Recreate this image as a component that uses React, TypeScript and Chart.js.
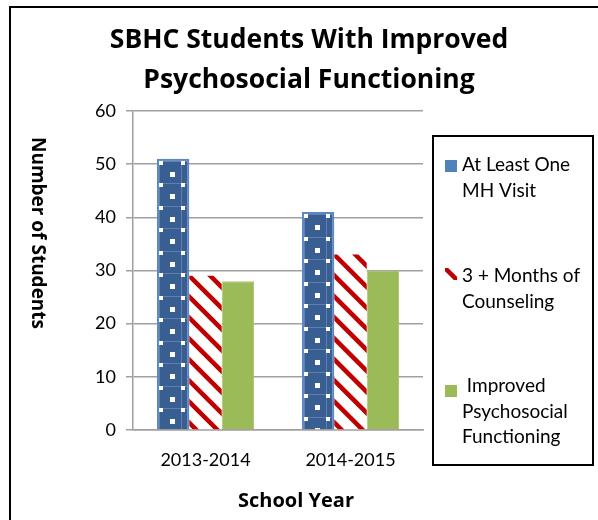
import React, { useEffect, useRef } from 'react';
import { Chart, registerables } from 'chart.js';

Chart.register(...registerables);

const categories = ['2013-2014', '2014-2015'];
const seriesNames = ['At Least One MH Visit', '3 + Months of Counseling', 'Improved Psychosocial Functioning'];
const legendLines = [['At Least One', 'MH Visit'], ['3 + Months of', 'Counseling'], [' Improved', 'Psychosocial', 'Functioning']];
const mhVisit = [51, 41];
const counseling = [29, 33];
const improved = [28, 30];
const yMin = 0;
const yMax = 60;
const yStep = 10;
const titleLines = ['SBHC Students With Improved', 'Psychosocial Functioning'];
const yTitle = 'Number of Students';
const xTitle = 'School Year';

const FONT = 'Lato, "Open Sans", sans-serif';
const BOLD_FONT = '"Open Sans", Lato, sans-serif';
const BLUE_FILL = '#385E92';
const BLUE_BORDER = '#5B87C4';
const RED = '#C00000';
const GREEN = '#9BBB59';

function drawDots(c: CanvasRenderingContext2D, left: number, top: number, right: number, bottom: number) {
  const P = 22.5;
  c.strokeStyle = 'rgba(125,155,205,0.55)';
  c.lineWidth = 1;
  c.beginPath();
  for (let yy = top + 2; yy < bottom; yy += P) {
    c.moveTo(left, Math.round(yy) + 0.5);
    c.lineTo(right, Math.round(yy) + 0.5);
  }
  for (let xx = left + 2; xx < right; xx += P) {
    c.moveTo(Math.round(xx) + 0.5, top);
    c.lineTo(Math.round(xx) + 0.5, bottom);
  }
  c.stroke();
  c.fillStyle = '#ffffff';
  for (let yy = top + 2; yy < bottom; yy += P) {
    for (let xx = left + 2; xx < right; xx += P) {
      c.fillRect(Math.round(xx), Math.round(yy), 4, 4);
      c.fillRect(Math.round(xx + 11), Math.round(yy + 11), 5, 5);
    }
  }
}

function drawStripes(c: CanvasRenderingContext2D, left: number, top: number, right: number, bottom: number) {
  const P = 21;
  const w = right - left;
  const h = bottom - top;
  c.strokeStyle = RED;
  c.lineWidth = 4.5;
  c.beginPath();
  const kMin = -Math.ceil(h / P) - 1;
  const kMax = Math.ceil(w / P) + 1;
  for (let k = kMin; k <= kMax; k++) {
    const x0 = left + k * P;
    c.moveTo(x0 - 5, top - 5);
    c.lineTo(x0 + h + w + 5, top + h + w + 5);
  }
  c.stroke();
}

export default function App() {
  const ref = useRef<HTMLCanvasElement>(null);

  useEffect(() => {
    const canvas = ref.current!;

    const patternPlugin = {
      id: 'patternOverlay',
      afterDatasetDraw(chart: any, args: any) {
        const ds = args.index;
        if (ds > 1) return;
        const c = chart.ctx as CanvasRenderingContext2D;
        const bw = ds === 0 ? 2 : 0;
        args.meta.data.forEach((el: any) => {
          const p = el.getProps(['x', 'y', 'base', 'width'], true);
          const left = p.x - p.width / 2;
          const right = p.x + p.width / 2;
          const top = Math.min(p.y, p.base);
          const bottom = Math.max(p.y, p.base);
          c.save();
          c.beginPath();
          c.rect(left + bw, top + bw, right - left - 2 * bw, bottom - top - bw);
          c.clip();
          if (ds === 0) drawDots(c, left, top, right, bottom);
          else drawStripes(c, left, top, right, bottom);
          c.restore();
        });
      },
    };

    const decorPlugin = {
      id: 'decor',
      afterDraw(chart: any) {
        const c = chart.ctx as CanvasRenderingContext2D;
        c.save();
        c.strokeStyle = '#000';
        c.lineWidth = 2;
        c.strokeRect(10, 7, 620, 560);
        c.fillStyle = '#000';
        c.font = `bold 26.5px ${BOLD_FONT}`;
        c.textAlign = 'center';
        c.textBaseline = 'alphabetic';
        c.fillText(titleLines[0], 309, 48);
        c.fillText(titleLines[1], 309, 88);
        c.save();
        c.translate(32, 233);
        c.rotate(Math.PI / 2);
        c.font = `bold 19px ${BOLD_FONT}`;
        c.fillText(yTitle, 0, 0);
        c.restore();
        c.font = `bold 20px ${BOLD_FONT}`;
        c.fillText(xTitle, 296, 507);
        c.lineWidth = 2;
        c.strokeRect(433, 136, 160, 329);
        const markerY = [160, 268, 385];
        const baseY = [171, 282, 392];
        c.textAlign = 'left';
        legendLines.forEach((lines, i) => {
          if (i === 0) {
            c.fillStyle = '#4F81BD';
            c.fillRect(445, markerY[i], 12, 12);
          } else if (i === 1) {
            c.save();
            c.beginPath();
            c.rect(445, markerY[i], 12, 12);
            c.clip();
            c.fillStyle = '#fff';
            c.fillRect(445, markerY[i], 12, 12);
            drawStripes(c, 445, markerY[i], 457, markerY[i] + 12);
            c.restore();
          } else {
            c.fillStyle = GREEN;
            c.fillRect(445, markerY[i], 12, 12);
          }
          c.fillStyle = '#000';
          c.font = `19px ${FONT}`;
          lines.forEach((ln, j) => {
            c.fillText(ln, 462, baseY[i] + j * 25.5);
          });
        });
        c.restore();
      },
    };

    const chart = new Chart(canvas, {
      type: 'bar',
      data: {
        labels: categories,
        datasets: [
          { label: seriesNames[0], data: mhVisit, backgroundColor: BLUE_FILL, borderColor: BLUE_BORDER, borderWidth: 2 },
          { label: seriesNames[1], data: counseling, backgroundColor: '#ffffff', borderWidth: 0 },
          { label: seriesNames[2], data: improved, backgroundColor: GREEN, borderColor: '#A9C46F', borderWidth: 1 },
        ],
      },
      options: {
        responsive: false,
        animation: false,
        devicePixelRatio: 1,
        layout: { padding: { top: 111, right: 175, bottom: 0, left: 0 } },
        datasets: { bar: { categoryPercentage: 0.67, barPercentage: 1.0 } },
        plugins: { legend: { display: false }, title: { display: false }, tooltip: { enabled: false } },
        scales: {
          x: {
            afterFit: (s: any) => { s.height = 90; },
            grid: { display: false, drawTicks: false },
            border: { display: true, color: '#A0A0A0', width: 1.5 },
            ticks: { font: { family: FONT, size: 18 }, color: '#000', padding: 19 },
          },
          y: {
            min: yMin,
            max: yMax,
            afterFit: (s: any) => { s.width = 133; },
            grid: { color: '#A0A0A0', lineWidth: 1.5, tickLength: 7, drawTicks: true },
            border: { display: true, color: '#A0A0A0', width: 1.5 },
            ticks: { stepSize: yStep, font: { family: FONT, size: 18 }, color: '#000', padding: 10 },
          },
        },
      },
      plugins: [patternPlugin, decorPlugin],
    } as any);

    return () => chart.destroy();
  }, []);

  return (
    <div style={{ position: 'absolute', left: 0, top: 0, width: 598, height: 520, background: '#fff' }}>
      <canvas ref={ref} width={598} height={520} style={{ display: 'block', width: 598, height: 520 }} />
    </div>
  );
}
